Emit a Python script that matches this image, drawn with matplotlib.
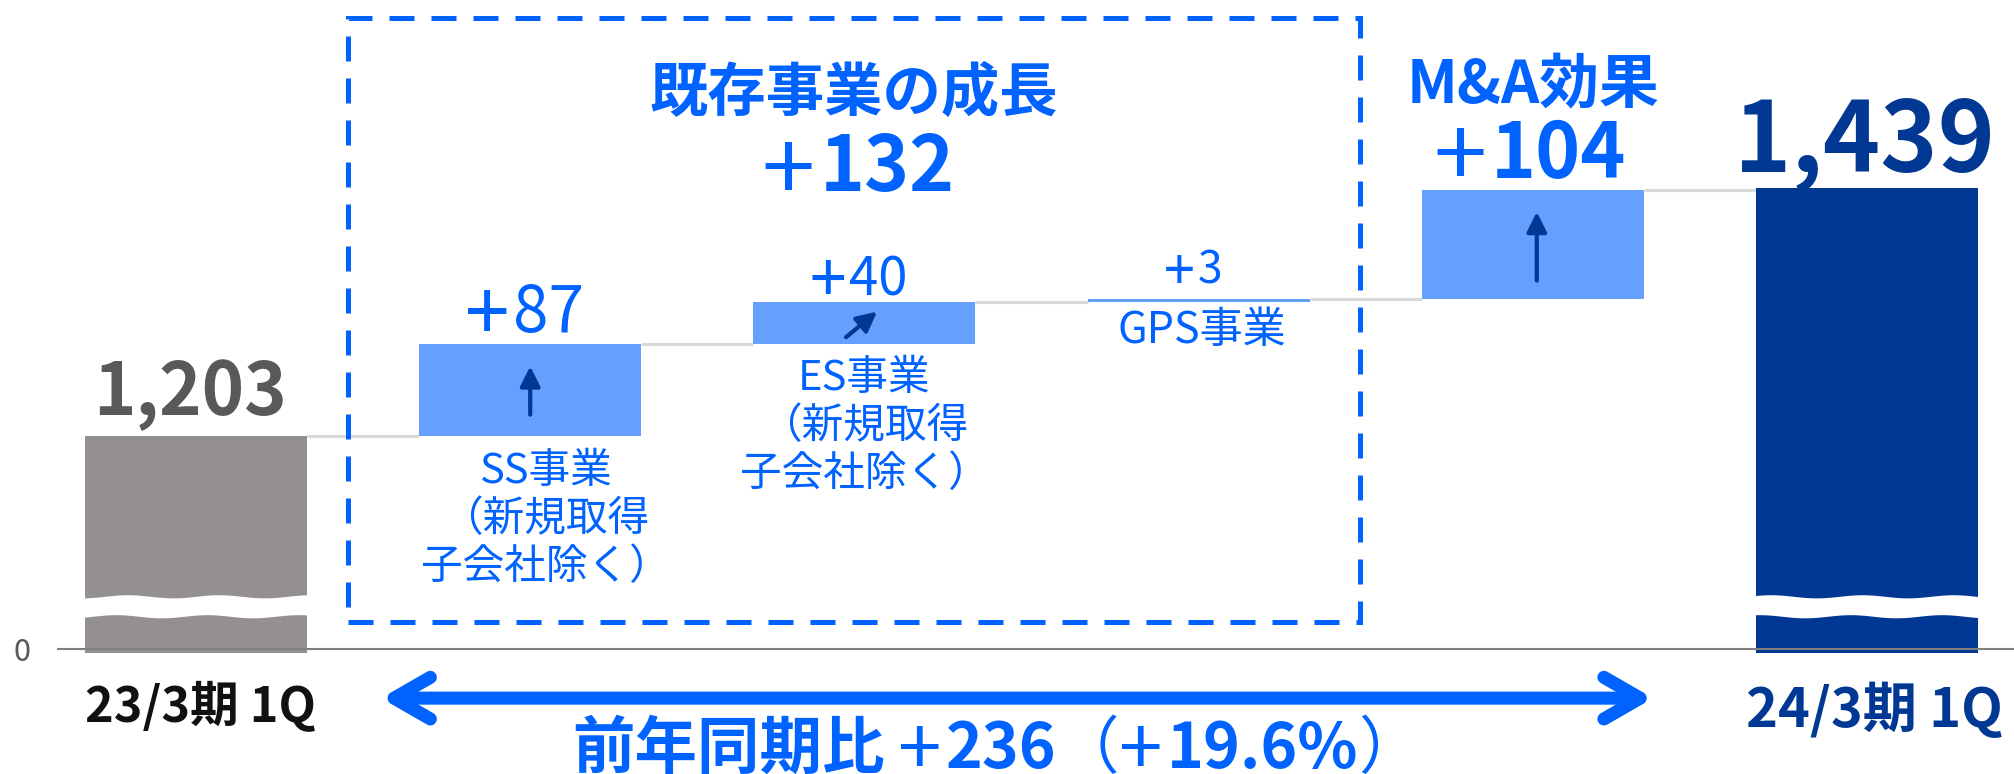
import numpy as np
import matplotlib
matplotlib.use("Agg")
import matplotlib.pyplot as plt
from matplotlib.patches import Rectangle

plt.rcParams['font.family'] = ['Noto Sans CJK JP', 'DejaVu Sans']

# データ
start_label = '23/3期 1Q'
end_label = '24/3期 1Q'
start_value = 1203
end_value = 1439
step_names = ['SS事業\n（新規取得\n子会社除く）', 'ES事業\n（新規取得\n子会社除く）', 'GPS事業', 'M&A効果']
step_values = [87, 40, 3, 104]
existing_title = '既存事業の成長'
existing_total = 132
yoy_diff = 236
yoy_pct = 19.6

# 色
GRAY = '#94908F'
LIGHT = '#66A0FF'
NAVY = '#003893'
BLUE = '#0062FF'
TXT_GRAY = '#595959'
LINE_GRAY = '#D9D9D9'

BASE = 1000  # 省略軸の「0」の位置
W = 0.664

fig = plt.figure(figsize=(20.15, 7.74), dpi=100)
ax = fig.add_axes([57 / 2015, 121 / 774, 1 - 57 / 2015, 653 / 774])
ax.set_xlim(-0.416, 5.443)
ax.set_ylim(996, 1618)
for s in ax.spines.values():
    s.set_visible(False)

n = len(step_values)
xs = np.arange(n + 2)
bottoms = start_value + np.concatenate([[0], np.cumsum(step_values)[:-1]])
tops = bottoms + np.array(step_values)

# 棒
ax.bar(0, start_value, W, color=GRAY, zorder=2)
ax.bar(xs[1:n + 1], step_values, W, bottom=bottoms, color=LIGHT, zorder=2)
ax.bar(n + 1, end_value, W, color=NAVY, zorder=2)

# つなぎ線
levels = [start_value] + list(tops)
for i, lv in enumerate(levels):
    ax.hlines(lv, i + W / 2, i + 1 - W / 2, color=LINE_GRAY, lw=2.2, zorder=1)

# 軸線と0
ax.axhline(BASE, color='#808080', lw=1.5, zorder=3)
ax.set_yticks([BASE], ['0'])
ax.tick_params(axis='y', length=0, pad=19, labelsize=22, labelcolor=TXT_GRAY)
ax.set_xticks([])

# 波線の省略記号
for i in [0, n + 1]:
    wx = np.linspace(i - W / 2 - 0.005, i + W / 2 + 0.005, 80)
    up = 1050 + 1.5 * np.sin(wx * 23)
    lo = 1031 + 1.5 * np.sin(wx * 23 + 0.8)
    ax.fill_between(wx, lo, up, color='white', lw=0, zorder=4)


def label(x, y, s, dx, dy, size, color, weight='normal', va='baseline', **kw):
    return ax.annotate(s, (x, y), xytext=(dx, dy), textcoords='offset points',
                       ha='center', va=va, fontsize=size, color=color,
                       fontweight=weight, zorder=6, **kw)


def mixed(x, y, parts, dx, dy, size, color, **kw):
    # 太字と標準を混ぜた一行のテキスト（中央揃え）
    # parts: (文字列, 太さ, 後ろの間隔pt, 文字サイズ倍率, 上下ずれpt)
    ts = []
    for s, w, gap, sc, sh in parts:
        ts.append(ax.annotate(s, (x, y), xytext=(0, dy + sh), textcoords='offset points',
                              ha='left', va='baseline', fontsize=size * sc, color=color,
                              fontweight=w, zorder=6, **kw))
    r = fig.canvas.get_renderer()
    ws = [t.get_window_extent(r).width * 72 / fig.dpi + p[2] for t, p in zip(ts, parts)]
    pos = dx - sum(ws) / 2
    for t, w, p in zip(ts, ws, parts):
        t.xyann = (pos, dy + p[4])
        pos += w


def plus_num(x, y, num, dx, dy, size, color, weight='normal', **kw):
    parts = [('+', 'normal', size * 0.06, 1.25, -size * 0.12), (num, weight, 0, 1, 0)]
    mixed(x, y, parts, dx, dy, size, color, **kw)


# 数値ラベル
label(0, start_value, f'{start_value:,}', -4, 15, 52, TXT_GRAY, 'bold')
label(n + 1, end_value, f'{end_value:,}', -1.5, 11.5, 70, NAVY, 'bold')
plus_num(1, tops[0], f'{step_values[0]}', -4, 9, 46, BLUE)
plus_num(2, tops[1], f'{step_values[1]}', -4, 5, 38, BLUE)
plus_num(3, tops[2], f'{step_values[2]}', -4, 11, 32, BLUE)
plus_num(4, tops[3], f'{step_values[3]}', -2, 9, 55, BLUE, 'bold')
label(4, tops[3], step_names[3], 0, 63, 43, BLUE, 'bold')

# 項目名
label(1, bottoms[0], step_names[0], 11, -11, 30, BLUE, va='top', linespacing=1.22)
label(2, bottoms[1], step_names[1], 0, -10, 30, BLUE, va='top', linespacing=1.22)
label(3, bottoms[2], step_names[2], 2, -29, 31, BLUE)

# 期間ラベル
label(0, BASE, start_label, 3, -53, 35, '#111111', 'bold', annotation_clip=False)
label(n + 1, BASE, end_label, 5, -56, 39, NAVY, 'bold', annotation_clip=False)

# 棒の中の矢印
arr = dict(arrowstyle='-|>', color=NAVY, lw=3, mutation_scale=30, shrinkA=0, shrinkB=0)
ax.annotate('', xy=(1, bottoms[0] + 0.76 * step_values[0]),
            xytext=(1, bottoms[0] + 0.23 * step_values[0]), arrowprops=arr, zorder=5)
ax.annotate('', xy=(2.038, bottoms[1] + 0.78 * step_values[1]),
            xytext=(1.945, bottoms[1] + 0.17 * step_values[1]), arrowprops=arr, zorder=5)
ax.annotate('', xy=(4.012, bottoms[3] + 0.80 * step_values[3]),
            xytext=(4.012, bottoms[3] + 0.17 * step_values[3]), arrowprops=arr, zorder=5)

# 既存事業の枠
bx0, bx1, by0, by1 = 0.455, 3.483, 1025.7, 1601
ax.add_patch(Rectangle((bx0, by0), bx1 - bx0, by1 - by0, fill=False, ec=BLUE,
                       lw=3.6, ls=(0, (5, 3.4)), zorder=5))
cx = (bx0 + bx1) / 2
label(cx, by1, existing_title, 0, -67, 42, BLUE, 'bold')
plus_num(cx, by1, f'{existing_total}', 3, -125, 55, BLUE, 'bold')

# 前年同期比の矢印
ay = 953
ax.annotate('', xy=(4.36, ay), xytext=(0.554, ay), annotation_clip=False,
            arrowprops=dict(arrowstyle='<->,head_length=1.3,head_width=0.75',
                            color=BLUE, lw=9.4, mutation_scale=20,
                            shrinkA=0, shrinkB=0, capstyle='round'))
pl = ('+', 'normal', 3, 1.25, -5)
mixed((0.554 + 4.36) / 2, ay,
      [('前年同期比', 'bold', 10, 1, 0), pl, (f'{yoy_diff}', 'bold', 0, 1, 0),
       ('（', 'normal', 0, 1, 0), pl, (f'{yoy_pct}%', 'bold', 0, 1, 0),
       ('）', 'normal', 0, 1, 0)],
      -15, -50, 45, BLUE, annotation_clip=False)

fig.savefig('out.png', dpi=100)
